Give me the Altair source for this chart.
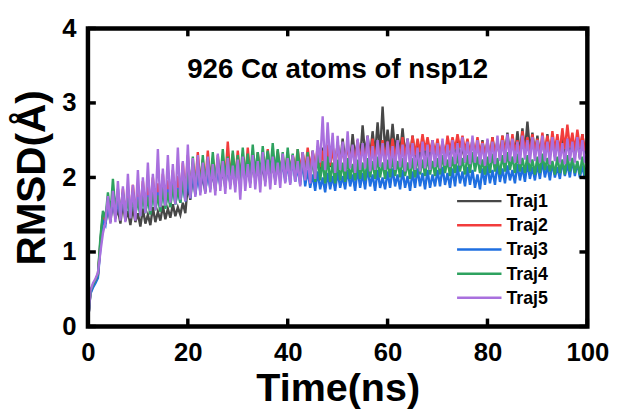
import altair as alt
import pandas as pd

# ---------------- data (0.5 ns steps) ----------------
time_ns = [i * 0.5 for i in range(201)]

traj1 = [
    0.05, 0.45, 0.55, 0.62, 0.70, 1.15, 1.50, 1.38, 1.62, 1.40, 1.70, 1.45, 1.58, 1.38, 1.66, 1.42, 1.55, 1.36, 1.60, 1.40,
    1.52, 1.34, 1.58, 1.38, 1.50, 1.36, 1.60, 1.40, 1.54, 1.42, 1.62, 1.44, 1.58, 1.46, 1.64, 1.48, 1.60, 1.50, 1.66, 1.52,
    1.90, 1.70, 2.05, 1.78, 2.10, 1.85, 2.02, 1.80, 2.15, 1.88, 2.08, 1.82, 2.20, 1.90, 2.12, 1.86, 2.25, 1.92, 2.10, 1.88,
    2.18, 1.90, 2.28, 1.95, 2.14, 1.92, 2.22, 1.98, 2.30, 1.96, 2.16, 1.94, 2.26, 2.00, 2.18, 1.96, 2.32, 2.02, 2.20, 1.98,
    2.24, 2.00, 2.30, 2.04, 2.20, 2.02, 2.34, 2.06, 2.26, 2.04, 2.36, 2.08, 2.28, 2.10, 2.40, 2.12, 2.30, 2.14, 2.42, 2.16,
    2.46, 2.18, 2.52, 2.22, 2.44, 2.20, 2.58, 2.26, 2.50, 2.24, 2.70, 2.30, 2.56, 2.28, 2.62, 2.30, 2.74, 2.32, 2.95, 2.36,
    2.64, 2.34, 2.72, 2.36, 2.58, 2.32, 2.66, 2.30, 2.52, 2.28, 2.56, 2.26, 2.48, 2.24, 2.54, 2.26, 2.46, 2.22, 2.50, 2.24,
    2.44, 2.20, 2.48, 2.22, 2.42, 2.20, 2.46, 2.24, 2.50, 2.22, 2.44, 2.20, 2.48, 2.24, 2.52, 2.26, 2.46, 2.22, 2.50, 2.26,
    2.48, 2.24, 2.54, 2.28, 2.50, 2.26, 2.56, 2.30, 2.60, 2.32, 2.52, 2.28, 2.62, 2.30, 2.66, 2.34, 2.75, 2.36, 2.60, 2.30,
    2.56, 2.28, 2.52, 2.26, 2.58, 2.30, 2.50, 2.28, 2.54, 2.30, 2.60, 2.32, 2.52, 2.28, 2.56, 2.30, 2.50, 2.26, 2.58, 2.32,
    2.50,
]

traj2 = [
    0.05, 0.46, 0.54, 0.60, 0.68, 1.10, 1.48, 1.40, 1.72, 1.45, 1.80, 1.50, 1.76, 1.48, 1.85, 1.52, 1.78, 1.50, 1.90, 1.55,
    1.82, 1.56, 1.95, 1.60, 1.88, 1.58, 2.00, 1.64, 1.92, 1.62, 2.05, 1.66, 1.96, 1.68, 2.10, 1.70, 2.02, 1.72, 2.20, 1.76,
    2.30, 1.85, 2.20, 1.90, 2.34, 1.92, 2.24, 1.94, 2.36, 1.96, 2.26, 1.95, 2.30, 1.98, 2.28, 1.96, 2.48, 2.00, 2.32, 1.98,
    2.36, 2.00, 2.28, 1.98, 2.40, 2.02, 2.30, 2.00, 2.34, 2.04, 2.26, 2.02, 2.38, 2.06, 2.30, 2.04, 2.36, 2.08, 2.28, 2.06,
    2.34, 2.08, 2.30, 2.06, 2.38, 2.10, 2.32, 2.08, 2.40, 2.12, 2.34, 2.10, 2.42, 2.14, 2.36, 2.12, 2.44, 2.16, 2.38, 2.14,
    2.46, 2.18, 2.40, 2.16, 2.48, 2.20, 2.42, 2.18, 2.50, 2.22, 2.44, 2.20, 2.48, 2.22, 2.52, 2.24, 2.46, 2.22, 2.50, 2.24,
    2.48, 2.22, 2.52, 2.26, 2.46, 2.24, 2.54, 2.28, 2.50, 2.26, 2.56, 2.30, 2.52, 2.34, 2.58, 2.36, 2.54, 2.34, 2.50, 2.32,
    2.52, 2.30, 2.48, 2.28, 2.56, 2.36, 2.54, 2.38, 2.58, 2.40, 2.56, 2.36, 2.52, 2.32, 2.50, 2.30, 2.54, 2.32, 2.48, 2.28,
    2.50, 2.26, 2.54, 2.30, 2.48, 2.28, 2.56, 2.32, 2.52, 2.30, 2.58, 2.34, 2.50, 2.30, 2.62, 2.36, 2.54, 2.32, 2.58, 2.34,
    2.52, 2.30, 2.60, 2.34, 2.56, 2.32, 2.62, 2.36, 2.58, 2.34, 2.66, 2.38, 2.71, 2.40, 2.60, 2.36, 2.64, 2.40, 2.58, 2.36,
    2.55,
]

traj3 = [
    0.05, 0.44, 0.52, 0.58, 0.65, 1.05, 1.42, 1.36, 1.65, 1.42, 1.75, 1.48, 1.70, 1.46, 1.78, 1.50, 1.72, 1.48, 1.80, 1.52,
    1.74, 1.50, 1.82, 1.54, 1.76, 1.52, 1.85, 1.58, 1.80, 1.56, 1.88, 1.60, 1.84, 1.62, 1.92, 1.64, 1.86, 1.66, 1.94, 1.68,
    2.00, 1.72, 2.10, 1.76, 2.04, 1.80, 2.16, 1.82, 2.08, 1.84, 2.20, 1.86, 2.12, 1.88, 2.22, 1.90, 2.14, 1.92, 2.26, 1.94,
    2.16, 1.92, 2.28, 1.96, 2.18, 1.94, 2.30, 1.98, 2.20, 1.96, 2.26, 1.98, 2.34, 2.00, 2.22, 1.98, 2.30, 1.96, 2.24, 1.94,
    2.20, 1.92, 2.28, 1.94, 2.14, 1.90, 2.22, 1.88, 2.10, 1.86, 2.04, 1.82, 2.08, 1.84, 2.00, 1.80, 2.06, 1.84, 2.02, 1.82,
    2.08, 1.86, 2.02, 1.84, 2.10, 1.88, 2.04, 1.82, 2.12, 1.86, 2.06, 1.84, 2.14, 1.88, 2.04, 1.82, 2.10, 1.86, 2.00, 1.84,
    2.08, 1.86, 2.12, 1.88, 2.04, 1.84, 2.10, 1.86, 2.02, 1.82, 2.08, 1.86, 2.12, 1.88, 2.06, 1.84, 2.10, 1.86, 2.04, 1.88,
    2.10, 1.88, 2.14, 1.90, 2.06, 1.86, 2.12, 1.88, 2.16, 1.92, 2.08, 1.88, 2.14, 1.90, 2.10, 1.86, 2.04, 1.84, 2.12, 1.90,
    2.16, 1.92, 2.10, 1.90, 2.18, 1.94, 2.12, 1.92, 2.16, 1.96, 2.10, 1.92, 2.18, 1.96, 2.14, 1.94, 2.20, 1.98, 2.14, 1.96,
    2.18, 1.98, 2.22, 2.00, 2.16, 1.96, 2.20, 2.00, 2.14, 1.98, 2.22, 2.02, 2.18, 2.00, 2.24, 2.02, 2.20, 2.00, 2.16, 1.98,
    2.10,
]

traj4 = [
    0.05, 0.47, 0.56, 0.62, 0.70, 1.20, 1.55, 1.45, 1.80, 1.50, 1.98, 1.55, 1.85, 1.50, 1.80, 1.48, 1.72, 1.46, 1.76, 1.50,
    1.70, 1.48, 1.78, 1.52, 1.74, 1.50, 1.82, 1.56, 1.76, 1.54, 1.86, 1.58, 1.80, 1.60, 1.90, 1.64, 1.84, 1.66, 1.96, 1.70,
    2.20, 1.80, 2.28, 1.86, 2.20, 1.88, 2.30, 1.90, 2.24, 1.92, 2.34, 1.94, 2.26, 1.96, 2.38, 1.98, 2.28, 1.96, 2.36, 2.00,
    2.30, 1.98, 2.40, 2.02, 2.32, 2.00, 2.44, 2.04, 2.34, 2.02, 2.42, 2.06, 2.36, 2.04, 2.46, 2.06, 2.38, 2.04, 2.34, 2.02,
    2.40, 2.04, 2.32, 2.00, 2.38, 2.02, 2.28, 1.98, 2.34, 1.96, 2.26, 1.94, 2.30, 1.96, 2.22, 1.92, 2.28, 1.94, 2.20, 1.92,
    2.24, 1.96, 2.20, 1.94, 2.26, 1.98, 2.18, 1.96, 2.24, 1.98, 2.20, 1.96, 2.26, 2.00, 2.22, 1.98, 2.28, 2.00, 2.20, 1.98,
    2.24, 2.00, 2.28, 2.02, 2.22, 2.00, 2.26, 2.02, 2.20, 1.98, 2.26, 2.00, 2.30, 2.04, 2.24, 2.02, 2.28, 2.04, 2.22, 2.02,
    2.26, 2.04, 2.30, 2.06, 2.24, 2.02, 2.28, 2.06, 2.32, 2.08, 2.26, 2.04, 2.30, 2.06, 2.34, 2.08, 2.28, 2.06, 2.24, 2.04,
    2.28, 2.06, 2.32, 2.08, 2.26, 2.04, 2.30, 2.08, 2.34, 2.10, 2.28, 2.06, 2.32, 2.08, 2.26, 2.06, 2.30, 2.08, 2.24, 2.04,
    2.28, 2.06, 2.32, 2.10, 2.26, 2.08, 2.22, 2.04, 2.28, 2.06, 2.24, 2.04, 2.30, 2.08, 2.26, 2.06, 2.22, 2.04, 2.28, 2.06,
    2.15,
]

traj5 = [
    0.05, 0.48, 0.58, 0.64, 0.72, 1.00, 1.25, 1.40, 1.75, 1.38, 1.82, 1.40, 1.95, 1.42, 1.88, 1.40, 2.05, 1.45, 1.90, 1.42,
    2.10, 1.48, 2.00, 1.52, 2.20, 1.55, 2.05, 1.56, 2.38, 1.60, 2.12, 1.62, 2.30, 1.66, 2.18, 1.64, 2.40, 1.70, 2.22, 1.68,
    2.44, 1.72, 2.26, 1.74, 2.30, 1.76, 2.20, 1.78, 2.28, 1.80, 2.18, 1.76, 2.32, 1.82, 2.22, 1.78, 2.26, 1.84, 2.16, 1.80,
    2.24, 1.70, 2.28, 1.82, 2.18, 1.86, 2.30, 1.84, 2.22, 1.80, 2.34, 1.88, 2.24, 1.84, 2.28, 1.90, 2.20, 1.86, 2.32, 1.92,
    2.26, 1.90, 2.30, 1.94, 2.22, 1.88, 2.34, 1.96, 2.28, 1.92, 2.36, 1.98, 2.50, 2.20, 2.82, 2.10, 2.74, 2.20, 2.60, 2.06,
    2.56, 2.10, 2.48, 2.08, 2.62, 2.12, 2.44, 2.06, 2.52, 2.10, 2.46, 2.12, 2.56, 2.08, 2.42, 2.10, 2.50, 2.14, 2.46, 2.10,
    2.48, 2.12, 2.42, 2.10, 2.50, 2.14, 2.44, 2.08, 2.52, 2.12, 2.46, 2.10, 2.40, 2.08, 2.48, 2.12, 2.44, 2.10, 2.50, 2.14,
    2.46, 2.12, 2.52, 2.16, 2.44, 2.14, 2.50, 2.18, 2.46, 2.16, 2.54, 2.20, 2.48, 2.18, 2.56, 2.20, 2.50, 2.18, 2.46, 2.16,
    2.52, 2.20, 2.48, 2.18, 2.56, 2.22, 2.50, 2.20, 2.58, 2.22, 2.52, 2.20, 2.48, 2.18, 2.56, 2.24, 2.50, 2.20, 2.54, 2.22,
    2.50, 2.20, 2.56, 2.22, 2.48, 2.18, 2.54, 2.22, 2.50, 2.20, 2.46, 2.18, 2.52, 2.22, 2.48, 2.20, 2.54, 2.24, 2.50, 2.20,
    2.30,
]

series_names = ["Traj1", "Traj2", "Traj3", "Traj4", "Traj5"]
series_colors = ["#474747", "#f23c3c", "#1f6fe0", "#2ea25f", "#a970de"]
x_ticks = [0, 20, 40, 60, 80, 100]
y_ticks = [0, 1, 2, 3, 4]
caption = "926 C\u03b1 atoms of nsp12"

# ---------------- build tables ----------------
rows = []
for name, vals in zip(series_names, [traj1, traj2, traj3, traj4, traj5]):
    for k, (t, v) in enumerate(zip(time_ns, vals)):
        rows.append({"time": t, "rmsd": v, "traj": name, "order": k})
df = pd.DataFrame(rows)

W, H = 506, 302
FONT = "Liberation Sans"
TICK_LEN = 8
TICK_W = 3.5
FRAME_W = 4.5

# legend layout (pixels inside the plot area)
LEG_X0, LEG_X1, LEG_TX = 374, 419, 424
LEG_Y0, LEG_DY = 175, 24.5
leg_df = pd.DataFrame({
    "traj": series_names,
    "ypx": [LEG_Y0 + i * LEG_DY for i in range(len(series_names))],
})

x_scale = alt.Scale(domain=[0, 100], nice=False, zero=False)
y_scale = alt.Scale(domain=[0, 4], nice=False, zero=False)
color_scale = alt.Scale(domain=series_names, range=series_colors)

lines = alt.Chart(df).mark_line(strokeWidth=2.4, strokeJoin="miter").encode(
    x=alt.X(
        "time:Q", scale=x_scale,
        axis=alt.Axis(
            title="Time(ns)", values=x_ticks, format="d", ticks=False, domain=False, grid=False,
            labelFont=FONT, labelFontSize=26, labelFontWeight="bold", labelColor="black",
            labelPadding=13, labelFlush=False,
            titleFont=FONT, titleFontSize=40, titleFontWeight="bold", titleColor="black",
            titleX=W / 2, titleY=75, titleAlign="center", titleBaseline="alphabetic",
        ),
    ),
    y=alt.Y(
        "rmsd:Q", scale=y_scale,
        axis=alt.Axis(
            title="RMSD(\u00c5)", values=y_ticks, format="d", ticks=False, domain=False, grid=False,
            labelFont=FONT, labelFontSize=26, labelFontWeight="bold", labelColor="black",
            labelPadding=12, labelFlush=False,
            titleFont=FONT, titleFontSize=41, titleFontWeight="bold", titleColor="black",
            titleAngle=270, titleX=-56, titleY=H / 2, titleAlign="center", titleBaseline="middle",
        ),
    ),
    color=alt.Color("traj:N", scale=color_scale, legend=None),
    order=alt.Order("order:Q"),
)

frame_df = pd.DataFrame({"k": [0]})
frame = alt.Chart(frame_df).mark_rect(
    fill=None, fillOpacity=0, stroke="black", strokeWidth=FRAME_W
).encode(x=alt.value(0), x2=alt.value(W), y=alt.value(0), y2=alt.value(H))

xt = pd.DataFrame({"v": x_ticks})
yt = pd.DataFrame({"v": y_ticks})

tick_bottom = alt.Chart(xt).mark_rule(color="black", strokeWidth=TICK_W).encode(
    x=alt.X("v:Q", scale=x_scale), y=alt.value(H), y2=alt.value(H - TICK_LEN))
tick_top = alt.Chart(xt).mark_rule(color="black", strokeWidth=TICK_W).encode(
    x=alt.X("v:Q", scale=x_scale), y=alt.value(0), y2=alt.value(TICK_LEN))
tick_left = alt.Chart(yt).mark_rule(color="black", strokeWidth=TICK_W).encode(
    y=alt.Y("v:Q", scale=y_scale), x=alt.value(0), x2=alt.value(TICK_LEN))
tick_right = alt.Chart(yt).mark_rule(color="black", strokeWidth=TICK_W).encode(
    y=alt.Y("v:Q", scale=y_scale), x=alt.value(W), x2=alt.value(W - TICK_LEN))

leg_lines = alt.Chart(leg_df).mark_rule(strokeWidth=2.5).encode(
    x=alt.value(LEG_X0), x2=alt.value(LEG_X1),
    y=alt.Y("ypx:Q", scale=None),
    color=alt.Color("traj:N", scale=color_scale, legend=None),
)
leg_text = alt.Chart(leg_df).mark_text(
    align="left", baseline="middle", font=FONT, fontSize=18, fontWeight="bold", color="black", dy=1,
).encode(
    x=alt.value(LEG_TX),
    y=alt.Y("ypx:Q", scale=None),
    text="traj:N",
)

cap_df = pd.DataFrame({"label": [caption]})
cap_text = alt.Chart(cap_df).mark_text(
    align="center", baseline="alphabetic", font=FONT, fontSize=28, fontWeight="bold", color="black",
).encode(x=alt.value(W / 2), y=alt.value(50.5), text="label:N")

chart = alt.layer(
    lines, frame, tick_bottom, tick_top, tick_left, tick_right, leg_lines, leg_text, cap_text
).properties(
    width=W, height=H,
    autosize=alt.AutoSizeParams(type="none"),
    padding={"left": 81, "top": 18, "right": 27, "bottom": 86},
).configure(
    background="white",
).configure_view(
    stroke=None,
)

chart.save("out.html", embed_options={"renderer": "svg", "actions": False})
